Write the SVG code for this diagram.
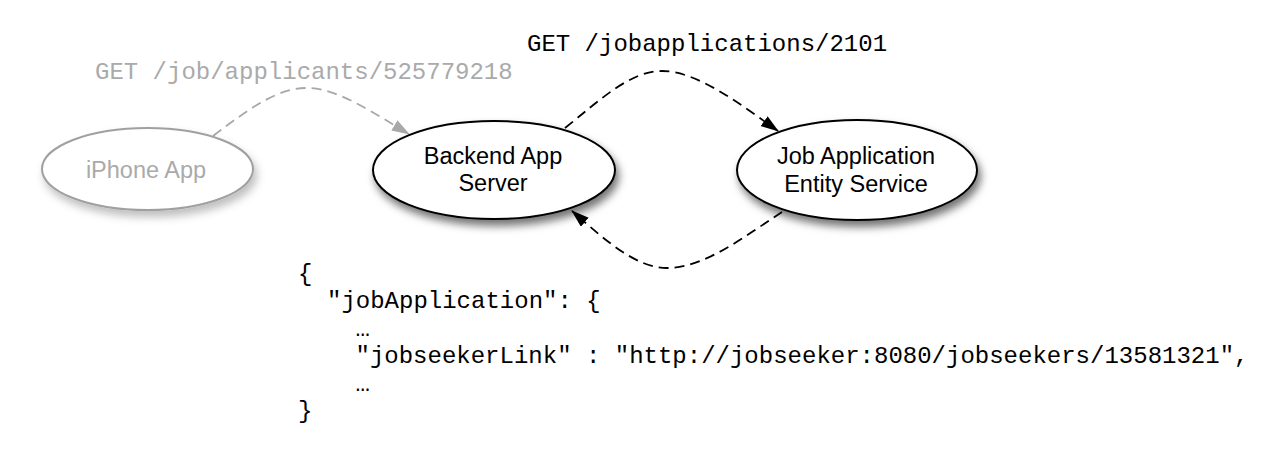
<svg xmlns="http://www.w3.org/2000/svg" width="1276" height="452" viewBox="0 0 1276 452">
<style>
.node{fill:#fff;stroke:#000;stroke-width:2}
.ghost{fill:#fff;stroke:#a0a0a0;stroke-width:2}
.lbl{font-family:"Liberation Sans",Arial,sans-serif;font-size:23.5px;text-anchor:middle;fill:#000}
.glbl{fill:#aaa}
.mono{font-family:"Liberation Mono","Courier New",monospace;font-size:24px;fill:#000}
.edge{fill:none;stroke:#000;stroke-width:1.8;stroke-dasharray:10 6}
.gedge{fill:none;stroke:#a8a8a8;stroke-width:1.8;stroke-dasharray:10 6}
</style>
<defs>
<filter id="sh" x="-20%" y="-30%" width="150%" height="170%">
<feDropShadow dx="3" dy="6" stdDeviation="4" flood-color="#000" flood-opacity="0.55"/>
</filter>
<filter id="shg" x="-20%" y="-30%" width="150%" height="170%">
<feDropShadow dx="3" dy="6" stdDeviation="4" flood-color="#000" flood-opacity="0.25"/>
</filter>
<marker id="ah" markerWidth="18" markerHeight="12" refX="17" refY="6" orient="auto" markerUnits="userSpaceOnUse">
<path d="M0,0 L18,6 L0,12 Z" fill="#000"/>
</marker>
<marker id="ahg" markerWidth="18" markerHeight="12" refX="17" refY="6" orient="auto" markerUnits="userSpaceOnUse">
<path d="M0,0 L18,6 L0,12 Z" fill="#a8a8a8"/>
</marker>
</defs>
<rect width="1276" height="452" fill="#fff"/>
<g id="connectors">
<path class="gedge" d="M213,136 C255,104 280,88 307,88 C337,88 372,112 409,134" marker-end="url(#ahg)"/>
<path class="edge" d="M565,128 C600,100 630,71 662,71 C697,71 740,104 778,131" marker-end="url(#ah)"/>
<path class="edge" d="M782,212 C745,236 705,268 667,268 C635,268 603,238 572,211" marker-end="url(#ah)"/>
</g>
<g id="iphone">
<ellipse class="ghost" cx="147.5" cy="169" rx="105.5" ry="41" filter="url(#shg)"/>
<text class="lbl glbl" x="146" y="178">iPhone App</text>
</g>
<g id="backend">
<ellipse class="node" cx="494" cy="170" rx="121" ry="49" filter="url(#sh)"/>
<text class="lbl" x="493" y="164">Backend App</text>
<text class="lbl" x="493" y="191">Server</text>
</g>
<g id="jobapp">
<ellipse class="node" cx="857" cy="170" rx="120" ry="50" filter="url(#sh)"/>
<text class="lbl" x="856" y="164">Job Application</text>
<text class="lbl" x="856" y="192">Entity Service</text>
</g>
<g id="labels">
<text class="mono" x="95" y="79" style="fill:#aaa">GET /job/applicants/525779218</text>
<text class="mono" x="527" y="51">GET /jobapplications/2101</text>
</g>
<g id="json" class="mono">
<text x="298" y="280.5">{</text>
<text x="327" y="308">"jobApplication": {</text>
<text x="355.5" y="335.5">…</text>
<text x="355.5" y="363">"jobseekerLink" : "http://jobseeker:8080/jobseekers/13581321",</text>
<text x="355.5" y="390.5">…</text>
<text x="298" y="418">}</text>
</g>
</svg>
